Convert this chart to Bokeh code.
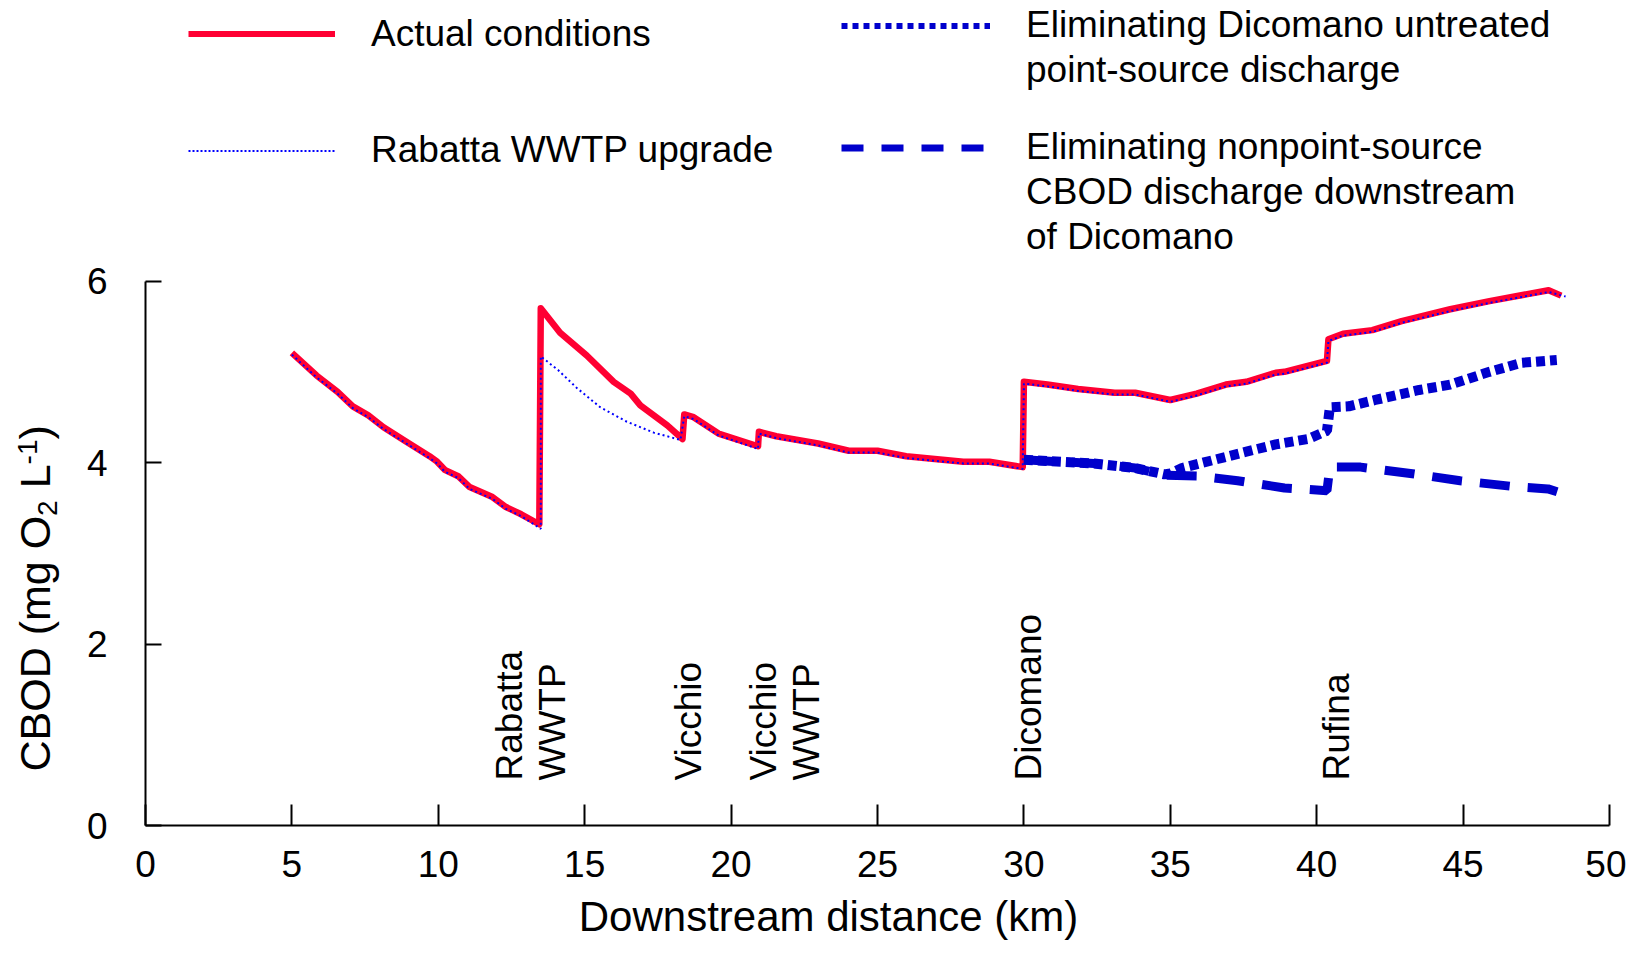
import math
from bokeh.plotting import figure
from bokeh.models import (Range1d, LinearAxis, FixedTicker, Label, Legend,
                          LegendItem, ColumnDataSource)
from bokeh.embed import file_html
from bokeh.resources import INLINE
from bokeh.core.properties import value

# ---------------- data ----------------
actual_km = [5.0, 5.84, 6.56, 7.08, 7.61, 8.13, 8.91, 9.70, 9.96, 10.22, 10.68, 11.07,
             11.85, 12.31, 12.83, 13.45, 13.5, 14.16, 15.07, 15.99, 16.57, 16.9, 17.82,
             18.34, 18.4, 18.72, 19.57, 20.92, 20.95, 21.54, 22.97, 24.02, 25.0, 25.98,
             27.93, 28.82, 29.96, 30.0, 30.8, 31.85, 33.1, 33.8, 35.0, 35.9, 36.9, 37.6,
             38.6, 38.9, 40.35, 40.4, 40.9, 41.9, 42.9, 44.56, 45.9, 47.92, 48.35]
actual_cbod = [5.21, 4.96, 4.78, 4.62, 4.52, 4.39, 4.23, 4.07, 4.01, 3.92, 3.85, 3.73,
               3.62, 3.51, 3.43, 3.32, 5.70, 5.43, 5.18, 4.89, 4.76, 4.63, 4.41,
               4.26, 4.53, 4.50, 4.32, 4.18, 4.34, 4.29, 4.21, 4.13, 4.13, 4.07,
               4.01, 4.01, 3.95, 4.89, 4.86, 4.81, 4.77, 4.77, 4.69, 4.76, 4.86, 4.89,
               4.99, 5.00, 5.12, 5.36, 5.42, 5.46, 5.56, 5.69, 5.78, 5.90, 5.84]

rabatta_km = [5.0, 5.84, 6.56, 7.08, 7.61, 8.13, 8.91, 9.70, 9.96, 10.22, 10.68, 11.07,
              11.85, 12.31, 12.83, 13.5, 13.5, 14.09, 14.74, 15.53, 16.44, 17.36, 18.27,
              18.4, 18.72, 19.57, 20.92, 20.95, 21.54, 22.97, 24.02, 25.0, 25.98, 27.93,
              28.82, 29.96, 30.0, 30.8, 31.85, 33.1, 33.8, 35.0, 35.9, 36.9, 37.6, 38.6,
              38.9, 40.35, 40.4, 40.9, 41.9, 42.9, 44.56, 45.9, 47.92, 48.5]
rabatta_cbod = [5.19, 4.94, 4.76, 4.60, 4.50, 4.37, 4.21, 4.05, 3.99, 3.90, 3.83, 3.71,
                3.60, 3.49, 3.41, 3.27, 5.17, 5.02, 4.82, 4.61, 4.45, 4.33, 4.25,
                4.51, 4.48, 4.30, 4.15, 4.32, 4.27, 4.19, 4.11, 4.11, 4.05, 3.99,
                3.99, 3.93, 4.87, 4.84, 4.79, 4.75, 4.75, 4.67, 4.74, 4.84, 4.87, 4.97,
                4.98, 5.10, 5.34, 5.40, 5.44, 5.54, 5.67, 5.76, 5.88, 5.83]

point_km = [30.0, 32.4, 33.8, 34.8, 35.0, 35.4, 36.5, 37.6, 38.6, 39.7, 40.35, 40.45,
            41.1, 42.0, 43.5, 44.56, 45.9, 47.0, 48.2]
point_cbod = [4.03, 3.99, 3.94, 3.87, 3.88, 3.94, 4.03, 4.12, 4.20, 4.26, 4.35, 4.61,
              4.62, 4.69, 4.80, 4.86, 5.00, 5.10, 5.13]

nonpoint_km = [30.0, 32.4, 33.8, 34.8, 36.0, 37.3, 38.9, 40.35, 40.45, 41.5, 43.2,
               44.9, 46.6, 47.9, 48.4]
nonpoint_cbod = [4.03, 3.99, 3.94, 3.86, 3.85, 3.80, 3.72, 3.69, 3.95, 3.95, 3.88,
                 3.80, 3.74, 3.71, 3.66]

x_ticks = [0, 5, 10, 15, 20, 25, 30, 35, 40, 45, 50]
y_ticks = [0, 2, 4, 6]

site_names = ["Rabatta\nWWTP", "Vicchio", "Vicchio\nWWTP", "Dicomano", "Rufina"]
site_label_km = [13.18, 18.55, 21.84, 30.16, 40.68]

legend_actual = ["Actual conditions"]
legend_rabatta = ["Rabatta WWTP upgrade"]
legend_point = ["Eliminating Dicomano untreated", "point-source discharge"]
legend_nonpoint = ["Eliminating nonpoint-source", "CBOD discharge downstream",
                   "of Dicomano"]

x_title = "Downstream distance (km)"

# ---------------- styles ----------------
FONT = "Liberation Sans"
RED = "#FF0033"
BLUE = "#0000CC"
BLUE2 = "#0000FF"

W, H = 1626, 942
PX_KM = 29.28
PX_Y = 90.73
X0_SCREEN = 145.0
Y0_SCREEN = 825.0

def kx(sx):
    return (sx - X0_SCREEN) / PX_KM

def vy(sy):
    return (Y0_SCREEN - sy) / PX_Y

p = figure(width=W, height=H, output_backend="svg", toolbar_location=None,
           x_range=Range1d(kx(0), kx(W)), y_range=Range1d(vy(H), vy(0)),
           min_border_left=0, min_border_right=0, min_border_top=0,
           min_border_bottom=0, x_axis_type=None, y_axis_type=None)
p.outline_line_color = None
p.background_fill_color = "white"
p.border_fill_color = "white"

# axes
xaxis = LinearAxis(ticker=FixedTicker(ticks=x_ticks, minor_ticks=[]), bounds=(0, 50),
                   fixed_location=0)
xaxis.major_tick_in = 21
xaxis.major_tick_out = 0
xaxis.minor_tick_in = 0
xaxis.minor_tick_out = 0
xaxis.axis_line_width = 2
xaxis.major_tick_line_width = 2
xaxis.major_label_text_font = FONT
xaxis.major_label_text_font_size = "37px"
xaxis.major_label_text_color = "black"
xaxis.major_label_standoff = 25
p.add_layout(xaxis, "below")

yaxis = LinearAxis(ticker=FixedTicker(ticks=y_ticks, minor_ticks=[]), bounds=(0, 6),
                   fixed_location=0)
yaxis.major_tick_in = 16
yaxis.major_tick_out = 0
yaxis.minor_tick_in = 0
yaxis.minor_tick_out = 0
yaxis.axis_line_width = 2
yaxis.major_tick_line_width = 2
yaxis.major_label_text_font = FONT
yaxis.major_label_text_font_size = "37px"
yaxis.major_label_text_color = "black"
yaxis.major_label_standoff = 38
p.add_layout(yaxis, "left")

# data lines
p.line(actual_km, actual_cbod, line_color=RED, line_width=6.5, line_join="round")
p.line(rabatta_km, rabatta_cbod, line_color=BLUE2, line_width=2, line_dash="2 3")
p.line(point_km, point_cbod, line_color=BLUE, line_width=10, line_dash="9 5")
p.line(nonpoint_km, nonpoint_cbod, line_color=BLUE, line_width=9, line_dash="30 18")

# site labels
site_src = ColumnDataSource(dict(x=site_label_km, y=[vy(780)] * len(site_label_km),
                                 t=site_names))
p.text(x="x", y="y", text="t", source=site_src, angle=math.pi / 2,
       text_align="left", text_baseline="middle", text_font=value(FONT),
       text_font_size="37px", text_color="black", text_line_height=1.05)

# legend key renderers (legend-only styling, drawn off-range)
off_x = [-100, -99]
off_y = [-100, -100]
k1 = p.line(off_x, off_y, line_color=RED, line_width=6)
k2 = p.line(off_x, off_y, line_color=BLUE2, line_width=2, line_dash="2 2")
k3 = p.line(off_x, off_y, line_color=BLUE, line_width=6, line_dash="6 5")
k4 = p.line(off_x, off_y, line_color=BLUE, line_width=7, line_dash="22 18")
blank = p.line(off_x, off_y, line_alpha=0)

ROW = 45

def make_legend(lines, rend, left, first_center, gw):
    items = [LegendItem(label=lines[0], renderers=[rend])]
    for ln in lines[1:]:
        items.append(LegendItem(label=ln, renderers=[blank]))
    bottom = first_center - ROW / 2 + ROW * len(lines)
    lg = Legend(items=items, location=(left, H - bottom))
    lg.glyph_width = gw
    lg.glyph_height = ROW
    lg.label_height = ROW
    lg.label_standoff = 36
    lg.label_text_font = FONT
    lg.label_text_font_size = "37px"
    lg.label_text_color = "black"
    lg.padding = 0
    lg.margin = 0
    lg.spacing = 0
    lg.border_line_alpha = 0
    lg.background_fill_alpha = 0
    p.add_layout(lg)

make_legend(legend_actual, k1, 188, 33.5, 147)
make_legend(legend_rabatta, k2, 188, 150, 147)
make_legend(legend_point, k3, 841, 25, 149)
make_legend(legend_nonpoint, k4, 841, 147, 149)

# x-axis title
p.add_layout(Label(x=kx(828), y=vy(916), text=x_title, text_align="center",
                   text_baseline="middle", text_font=FONT, text_font_size="42px",
                   text_color="black"))

# y-axis title composed of pieces (subscript / superscript)
def ylab(txt, sx, sy, size):
    p.add_layout(Label(x=kx(sx), y=vy(sy), text=txt, angle=math.pi / 2,
                       text_align="left", text_baseline="middle", text_font=FONT,
                       text_font_size=size, text_color="black"))

ylab("CBOD (mg O", 34, 771, "43px")
ylab("2", 47, 515.4, "28px")
ylab("L", 34, 487.8, "43px")
ylab("-1", 27, 463.9, "28px")
ylab(")", 34, 439, "43px")

open("out.html", "w").write(file_html(p, INLINE))
